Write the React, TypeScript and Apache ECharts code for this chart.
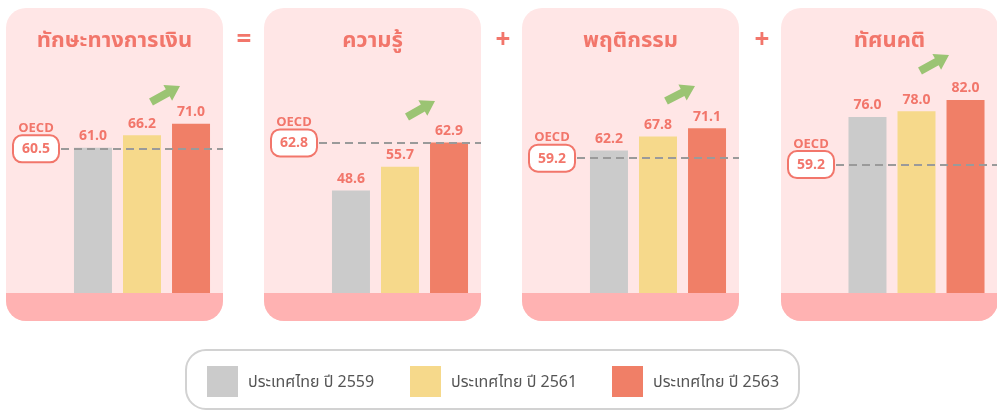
import React, { useEffect, useRef } from "react";
import * as echarts from "echarts";

// ---- data ----
const panelTitles = ["ทักษะทางการเงิน", "ความรู้", "พฤติกรรม", "ทัศนคติ"];
const seriesNames = ["ประเทศไทย ปี 2559", "ประเทศไทย ปี 2561", "ประเทศไทย ปี 2563"];
const values2559 = [61.0, 48.6, 62.2, 76.0];
const values2561 = [66.2, 55.7, 67.8, 78.0];
const values2563 = [71.0, 62.9, 71.1, 82.0];
const oecdValues = [60.5, 62.8, 59.2, 59.2];
const operators = ["=", "+", "+"];

// ---- layout / style ----
const seriesColors = ["#cbcbcb", "#f6d98b", "#f07f67"];
const accent = "#f2766b";
const FONT = "'Noto Sans Thai', 'Noto Sans', Roboto, sans-serif";
const panelLeft = [6, 264, 522, 781];
const panelWidth = 217;
const panelTop = 8;
const panelBottom = 321;
const bandTop = 293;
const gridTop = 60;
const axisMin = [0, 18.1, 5.6, 13.9];
const axisMax = [97.8, 87.5, 98.2, 96.1];
const operatorX = [244, 503, 762];
const arrows = [
  [[151, 102], [180, 86]],
  [[407, 117], [435, 101]],
  [[666, 101], [695, 86]],
  [[920, 71], [949, 55]],
];

function arrowPoints(tail: number[], tip: number[]) {
  const dx = tip[0] - tail[0];
  const dy = tip[1] - tail[1];
  const len = Math.hypot(dx, dy);
  const ux = dx / len, uy = dy / len;
  const nx = -uy, ny = ux;
  const sw = 4, hw = 9, hl = 14;
  const neck = [tip[0] - ux * hl, tip[1] - uy * hl];
  return [
    [tail[0] + nx * sw, tail[1] + ny * sw],
    [neck[0] + nx * sw, neck[1] + ny * sw],
    [neck[0] + nx * hw, neck[1] + ny * hw],
    [tip[0], tip[1]],
    [neck[0] - nx * hw, neck[1] - ny * hw],
    [neck[0] - nx * sw, neck[1] - ny * sw],
    [tail[0] - nx * sw, tail[1] - ny * sw],
  ];
}

export default function App() {
  const ref = useRef<HTMLDivElement>(null);
  useEffect(() => {
    if (!ref.current) return;
    const chart = echarts.init(ref.current, undefined, { renderer: "svg" });
    const allValues = [values2559, values2561, values2563];

    const grids: any[] = [];
    const xAxes: any[] = [];
    const yAxes: any[] = [];
    const series: any[] = [];
    const graphics: any[] = [];

    panelTitles.forEach((title, i) => {
      const gl = panelLeft[i] + 55;
      grids.push({ left: gl, width: panelWidth - 55, top: gridTop, height: bandTop - gridTop });
      xAxes.push({ gridIndex: i, type: "category", data: [title], show: false });
      yAxes.push({ gridIndex: i, type: "value", min: axisMin[i], max: axisMax[i], show: false, splitLine: { show: false } });

      graphics.push({
        type: "rect",
        z: -10,
        shape: { x: panelLeft[i], y: panelTop, width: panelWidth, height: panelBottom - panelTop, r: 20 },
        style: { fill: "#ffe6e6" },
      });
      graphics.push({
        type: "rect",
        z: -9,
        shape: { x: panelLeft[i], y: bandTop, width: panelWidth, height: panelBottom - bandTop, r: [0, 0, 20, 20] },
        style: { fill: "#ffb2b2" },
      });
      graphics.push({
        type: "text",
        z: 5,
        x: panelLeft[i] + panelWidth / 2,
        y: 40,
        style: {
          text: title,
          fill: accent,
          font: `bold 22px ${FONT}`,
          textAlign: "center",
          textVerticalAlign: "middle",
        },
      });
      graphics.push({
        type: "polygon",
        z: 5,
        shape: { points: arrowPoints(arrows[i][0], arrows[i][1]) },
        style: { fill: "#9bc473" },
      });

      seriesNames.forEach((name, s) => {
        const ser: any = {
          type: "bar",
          name,
          xAxisIndex: i,
          yAxisIndex: i,
          data: [allValues[s][i]],
          barWidth: 38,
          barGap: "29%",
          itemStyle: { color: seriesColors[s] },
          label: {
            show: true,
            position: "top",
            distance: 5,
            formatter: (p: any) => Number(p.value).toFixed(1),
            color: accent,
            fontWeight: "bold",
            fontSize: 14,
            fontFamily: FONT,
          },
          emphasis: { disabled: true },
        };
        if (s === 0) {
          ser.markLine = {
            silent: true,
            symbol: "none",
            emphasis: { disabled: true },
            lineStyle: { type: [8, 5], color: "#9a9a9a", width: 2 },
            label: {
              position: "start",
              distance: 1,
              formatter: (p: any) => `{t|OECD}\n{b|${Number(p.value).toFixed(1)}}\n{s|}`,
              rich: {
                t: { fontSize: 13, fontWeight: "bold", color: accent, fontFamily: FONT, lineHeight: 19, width: 48, align: "center", padding: [0, 0, 8, 0] },
                b: {
                  fontSize: 14,
                  fontWeight: "bold",
                  color: accent,
                  fontFamily: FONT,
                  backgroundColor: "#ffffff",
                  borderColor: accent,
                  borderWidth: 2,
                  borderRadius: 8,
                  padding: [5, 7],
                  width: 30,
                  height: 15,
                  lineHeight: 15,
                  align: "center",
                },
                s: { height: 19, lineHeight: 19, padding: [0, 0, 8, 0] },
              },
            },
            data: [{ yAxis: oecdValues[i] }],
          };
        }
        series.push(ser);
      });
    });

    operators.forEach((op, k) => {
      graphics.push({
        type: "text",
        z: 5,
        x: operatorX[k],
        y: 40,
        style: { text: op, fill: accent, font: `bold 26px ${FONT}`, textAlign: "center", textVerticalAlign: "middle" },
      });
    });

    graphics.push({
      type: "rect",
      z: -10,
      shape: { x: 186, y: 350, width: 613, height: 59, r: 20 },
      style: { fill: "#ffffff", stroke: "#d2d2d2", lineWidth: 2 },
    });

    const legendLeft = [207, 410, 612];
    const legends = seriesNames.map((name, s) => ({
      data: [name],
      left: legendLeft[s],
      top: 366,
      padding: 0,
      itemWidth: 31,
      itemHeight: 31,
      icon: "rect",
      selectedMode: false,
      itemStyle: { color: seriesColors[s] },
      textStyle: { fontSize: 16, color: "#555555", fontFamily: FONT, padding: [0, 0, 0, 5] },
    }));

    chart.setOption({
      animation: false,
      grid: grids,
      xAxis: xAxes,
      yAxis: yAxes,
      legend: legends,
      series,
      graphic: graphics,
    });
    return () => chart.dispose();
  }, []);
  return <div ref={ref} style={{ position: "fixed", left: 0, top: 0, width: 997, height: 411 }} />;
}
